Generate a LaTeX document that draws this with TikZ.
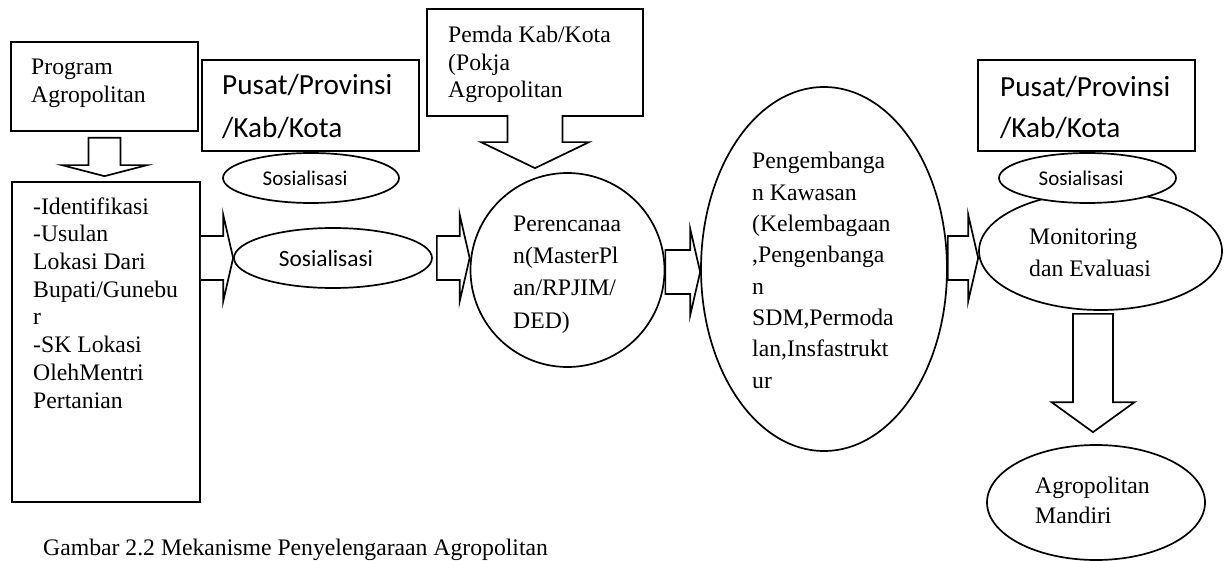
\documentclass[tikz,border=0pt]{standalone}
\usepackage{fontspec}
\setmainfont{Liberation Serif}
\newfontfamily\calibri{Carlito}
\usetikzlibrary{calc,shapes.geometric}

\tikzset{
  frame/.style={draw, line width=1.7pt, fill=white, rectangle, inner sep=0pt},
  oval/.style={draw, line width=1.7pt, fill=white, ellipse, inner sep=0pt},
  txt/.style={anchor=base west, align=left, inner sep=0pt,
              font=\fontsize{23.7}{27.7}\selectfont},
  blk/.style={draw, line width=1.7pt, fill=white, line join=miter},
}

% horizontal block arrow: #1 start of shaft, #2 tip, #3 optional "-- cycle"
\newcommand\rightblock[3]{%
  \filldraw[blk] let \p1=(#1), \p2=(#2) in
    (\x1,\y1+22pt) -- (\x2-10pt,\y1+22pt) -- (\x2-10pt,\y1+43.5pt) --
    (\x2,\y1) -- (\x2-10pt,\y1-43.5pt) -- (\x2-10pt,\y1-22pt) --
    (\x1,\y1-22pt) #3;}

% vertical block arrow: #1 top of shaft, #2 tip level, #3 shaft half width,
% #4 head half width, #5 head length, #6 optional "-- cycle"
\newcommand\downblock[6]{%
  \filldraw[blk] let \p1=(#1), \p2=(#2) in
    (\x1-#3pt,\y1) -- (\x1-#3pt,\y2+#5pt) -- (\x1-#4pt,\y2+#5pt) --
    (\x1,\y2) -- (\x1+#4pt,\y2+#5pt) -- (\x1+#3pt,\y2+#5pt) --
    (\x1+#3pt,\y1) #6;}

% oval label set a little left of the oval's centre
\newcommand\leftish[2]{\hspace*{-#1pt}#2}

% text blocks are placed by the baseline of their last line
\begin{document}
\begin{tikzpicture}[x=1pt,y=-1pt]
\useasboundingbox (0,0) rectangle (1230,561);

% programme box and the step list below it
\node[frame, minimum width=187pt, minimum height=89pt] (prog) at (104.5,86.5) {};
\node[txt, font=\fontsize{23.7}{28}\selectfont] (progtxt) at (31,103) {Program\\Agropolitan};

\node[frame, minimum width=188pt, minimum height=320pt] (lb) at (106,342) {};
\node[txt] (lbtxt) at (33,408)
  {-Identifikasi\\-Usulan\\Lokasi Dari\\Bupati/Gunebu\\r\\-SK Lokasi\\OlehMentri\\Pertanian};
\downblock{[yshift=-6pt]prog.south}{[yshift=5pt]lb.north}{16}{42.5}{11}{-- cycle}

% central / provincial level, first block
\node[frame, minimum width=217pt, minimum height=91pt] (pusatA) at (310.5,105.5) {};
\node[anchor=base west, align=left, inner sep=0pt,
      font=\calibri\fontsize{29.2}{43}\selectfont] (pusatAtxt) at (222,138)
  {Pusat/Provinsi\\/Kab/Kota};
\node[oval, minimum width=176pt, minimum height=50pt,
      font=\calibri\fontsize{21}{25}\selectfont] (socA) at (311,178) {\leftish{12}{Sosialisasi}};

% regional government box
\node[frame, minimum width=216pt, minimum height=107pt] (pemda) at (535,62.5) {};
\node[txt, font=\fontsize{23.7}{27.5}\selectfont] (pemdatxt) at (448,98)
  {Pemda Kab/Kota\\(Pokja\\Agropolitan};

% planning
\node[oval, minimum width=194pt, minimum height=194pt] (plan) at (567.5,270) {};
\node[txt, font=\fontsize{23.7}{32.3}\selectfont] (plantxt) at (513,328)
  {Perencanaa\\n(MasterPl\\an/RPJIM/\\DED)};
\downblock{[yshift=2pt]pemda.south}{[yshift=4pt]plan.north}{27.5}{54}{26}{}

% socialisation
\node[oval, minimum width=198pt, minimum height=60pt,
      font=\calibri\fontsize{23.3}{28}\selectfont] (soc) at (333,258) {\leftish{14}{Sosialisasi}};
\rightblock{lb.east |- soc.west}{soc.west}{}
\rightblock{[xshift=4pt]soc.east}{plan.west |- soc.west}{-- cycle}

% area development
\node[oval, minimum width=246pt, minimum height=364pt] (dev) at (824,269) {};
\node[txt, font=\fontsize{23.7}{31.3}\selectfont] (devtxt) at (752,388)
  {Pengembanga\\n Kawasan\\(Kelembagaan\\,Pengenbanga\\n\\SDM,Permoda\\lan,Insfastrukt\\ur};
\rightblock{[yshift=-2pt]plan.east}{dev.west}{-- cycle}

% monitoring and evaluation
\node[oval, minimum width=243pt, minimum height=118pt] (mon) at (1100.5,251) {};
\node[txt, font=\fontsize{23.7}{32}\selectfont] (montxt) at (1029,276)
  {Monitoring\\dan Evaluasi};

% central / provincial level, second block
\node[frame, minimum width=217pt, minimum height=91pt] (pusatB) at (1086.5,105.5) {};
\node[anchor=base west, align=left, inner sep=0pt,
      font=\calibri\fontsize{29.2}{41}\selectfont] (pusatBtxt) at (1000,138)
  {Pusat/Provinsi\\/Kab/Kota};
\node[oval, minimum width=177pt, minimum height=50pt,
      font=\calibri\fontsize{21}{25}\selectfont] (socB) at (1087.5,178) {\leftish{13}{Sosialisasi}};
\rightblock{dev.east |- soc.east}{mon.west |- soc.east}{-- cycle}

% outcome
\node[oval, minimum width=218pt, minimum height=115pt] (agro) at (1096,502.5) {};
\node[txt, font=\fontsize{23.7}{30.5}\selectfont] (agrotxt) at (1035,523.5)
  {Agropolitan\\Mandiri};
\downblock{[xshift=-7.5pt,yshift=-3pt]mon.south}{[yshift=12pt]agro.north}{20}{41.5}{30}{-- cycle}

% caption
\node[anchor=base west, inner sep=0pt, font=\fontsize{23.7}{28}\selectfont] (caption)
  at (43,555) {Gambar 2.2 Mekanisme Penyelengaraan Agropolitan};
\end{tikzpicture}
\end{document}
